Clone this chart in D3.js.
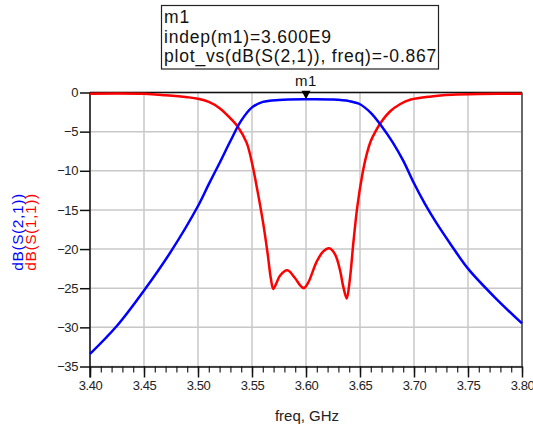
<!DOCTYPE html>
<html>
<head>
<meta charset="utf-8">
<script src="https://cdn.jsdelivr.net/npm/d3@7"></script>
<style>
  body { margin:0; background:#fff; }
  svg { display:block; font-family:"Liberation Sans", Arial, sans-serif; }
  .tick text { fill:#222; }
</style>
</head>
<body>
<svg id="chart" width="533" height="428"></svg>
<script>
// S(2,1) in dB, blue trace
let s21Freq = [3.400,3.425,3.450,3.475,3.500,3.510,3.520,3.530,3.540,3.550,3.560,3.575,3.600,3.625,3.640,3.650,3.660,3.670,3.680,3.690,3.700,3.710,3.720,3.735,3.750,3.775,3.800]
let s21dB   = [-33.4,-29.8,-25.3,-20.3,-14.5,-11.7,-9.0,-6.2,-3.6,-1.9,-1.2,-0.95,-0.867,-0.9,-1.1,-1.5,-2.6,-4.3,-6.3,-8.7,-11.6,-14.2,-16.5,-19.6,-22.5,-26.2,-29.5]

// S(1,1) in dB, red trace
let s11Freq = [3.400,3.450,3.470,3.490,3.500,3.510,3.520,3.530,3.537,3.545,3.550,3.555,3.560,3.5645,3.5675,3.5697,3.5725,3.5759,3.5827,3.5898,3.5950,3.5981,3.6020,3.6099,3.6160,3.6216,3.6270,3.6315,3.6345,3.6377,3.6405,3.6440,3.6475,3.652,3.656,3.660,3.665,3.670,3.678,3.687,3.697,3.716,3.735,3.760,3.800]
let s11dB   = [-0.15,-0.17,-0.35,-0.6,-0.8,-1.2,-2.0,-3.3,-4.4,-6.4,-9.0,-12.5,-16.4,-20.6,-23.8,-25.1,-24.4,-23.4,-22.7,-23.7,-24.7,-25.0,-24.3,-21.6,-20.3,-19.9,-20.7,-22.7,-24.8,-26.3,-24.0,-19.0,-14.6,-10.6,-8.0,-6.2,-4.8,-3.7,-2.4,-1.5,-0.9,-0.5,-0.3,-0.2,-0.15]

let xTicks = [3.40,3.45,3.50,3.55,3.60,3.65,3.70,3.75,3.80]
let yTicks = [0,-5,-10,-15,-20,-25,-30,-35]
let markerFreq = 3.600
let markerVal = -0.867
let markerLines = ["m1","indep(m1)=3.600E9","plot_vs(dB(S(2,1)), freq)=-0.867"]

let svg = d3.select('#chart')
let x = d3.scaleLinear().domain([3.4,3.8]).range([90,522])
let y = d3.scaleLinear().domain([-35,0]).range([366.5,92.5])

// grid
let grid = svg.append('g').attr('class','grid')
xTicks.forEach(t=>{
	grid.append('line')
		.attr('x1',x(t)).attr('x2',x(t))
		.attr('y1',y(0)).attr('y2',y(-35))
		.attr('stroke','#c8c8c8').attr('stroke-width',1.5)
})
yTicks.forEach(t=>{
	grid.append('line')
		.attr('x1',x(3.4)).attr('x2',x(3.8))
		.attr('y1',y(t)).attr('y2',y(t))
		.attr('stroke','#c8c8c8').attr('stroke-width',1.5)
})

// borders top / right
svg.append('line').attr('x1',x(3.4)).attr('x2',x(3.8)).attr('y1',y(0)).attr('y2',y(0))
	.attr('stroke','#111').attr('stroke-width',1.5)
svg.append('line').attr('x1',x(3.8)).attr('x2',x(3.8)).attr('y1',y(0)).attr('y2',y(-35))
	.attr('stroke','#444').attr('stroke-width',1.5)

// minor x ticks
let minor = d3.range(3.40,3.8001,0.01)
svg.append('g')
	.attr('transform','translate(0,'+y(-35)+')')
	.call(d3.axisBottom(x).tickValues(minor).tickSize(6).tickFormat(''))
	.call(g=>g.select('.domain').remove())
	.selectAll('line').attr('stroke','#222').attr('stroke-width',1.2)

// x axis
let xg = svg.append('g')
	.attr('transform','translate(0,'+y(-35)+')')
	.call(d3.axisBottom(x).tickValues(xTicks).tickSize(11).tickSizeOuter(0).tickFormat(d3.format('.2f')))
xg.select('.domain').attr('stroke','#111').attr('stroke-width',1.5)
xg.selectAll('line').attr('stroke','#111').attr('stroke-width',1.5)
xg.selectAll('text').attr('font-size',13).attr('letter-spacing',-0.4).attr('dy','0.35em').attr('y',19)

// y axis
let yg = svg.append('g')
	.attr('transform','translate('+x(3.4)+',0)')
	.call(d3.axisLeft(y).tickValues(yTicks).tickSize(10).tickSizeOuter(0))
yg.select('.domain').attr('stroke','#111').attr('stroke-width',1.5)
	.attr('d','M0,'+y(0)+'V'+(y(-35)+11))
yg.selectAll('line').attr('stroke','#111').attr('stroke-width',1.5)
yg.selectAll('text').attr('font-size',13).attr('letter-spacing',-0.4).attr('x',-12)

// traces
let line = d3.line().x(d=>x(d[0])).y(d=>y(d[1])).curve(d3.curveCatmullRom.alpha(0.5))
svg.append('path')
	.datum(s11Freq.map((f,i)=>[f,s11dB[i]]))
	.attr('d',line).attr('fill','none').attr('stroke','#ff0000').attr('stroke-width',2.5)
svg.append('path')
	.datum(s21Freq.map((f,i)=>[f,s21dB[i]]))
	.attr('d',line).attr('fill','none').attr('stroke','#0000ff').attr('stroke-width',2.5)

// axis labels
svg.append('text').attr('x',x(3.6)+1).attr('y',421)
	.attr('text-anchor','middle').attr('font-size',15).attr('fill','#222')
	.text('freq, GHz')
svg.append('text').attr('transform','translate(23,232) rotate(-90)')
	.attr('text-anchor','middle').attr('font-size',15.5).attr('letter-spacing',0.6).attr('fill','#0000ff')
	.text('dB(S(2,1))')
svg.append('text').attr('transform','translate(36,232) rotate(-90)')
	.attr('text-anchor','middle').attr('font-size',15.5).attr('letter-spacing',0.6).attr('fill','#ff0000')
	.text('dB(S(1,1))')

// marker
let mx = x(markerFreq), my = y(markerVal)
svg.append('path')
	.attr('d','M'+(mx-4.5)+','+(my-8.5)+'L'+(mx+4.5)+','+(my-8.5)+'L'+mx+','+my+'Z')
	.attr('fill','#000')
svg.append('text').attr('x',mx).attr('y',86)
	.attr('text-anchor','middle').attr('font-size',15).attr('letter-spacing',0.5).attr('fill','#111')
	.text('m1')

// marker readout box
let box = svg.append('g')
box.append('rect').attr('x',161.5).attr('y',5.5).attr('width',277).attr('height',63.5)
	.attr('fill','#fff').attr('stroke','#222').attr('stroke-width',1.2)
markerLines.forEach((t,i)=>{
	box.append('text').attr('x',164).attr('y',23+i*19.5)
		.attr('font-size',17.5).attr('letter-spacing',0.8).attr('fill','#111')
		.text(t)
})
</script>
</body>
</html>
